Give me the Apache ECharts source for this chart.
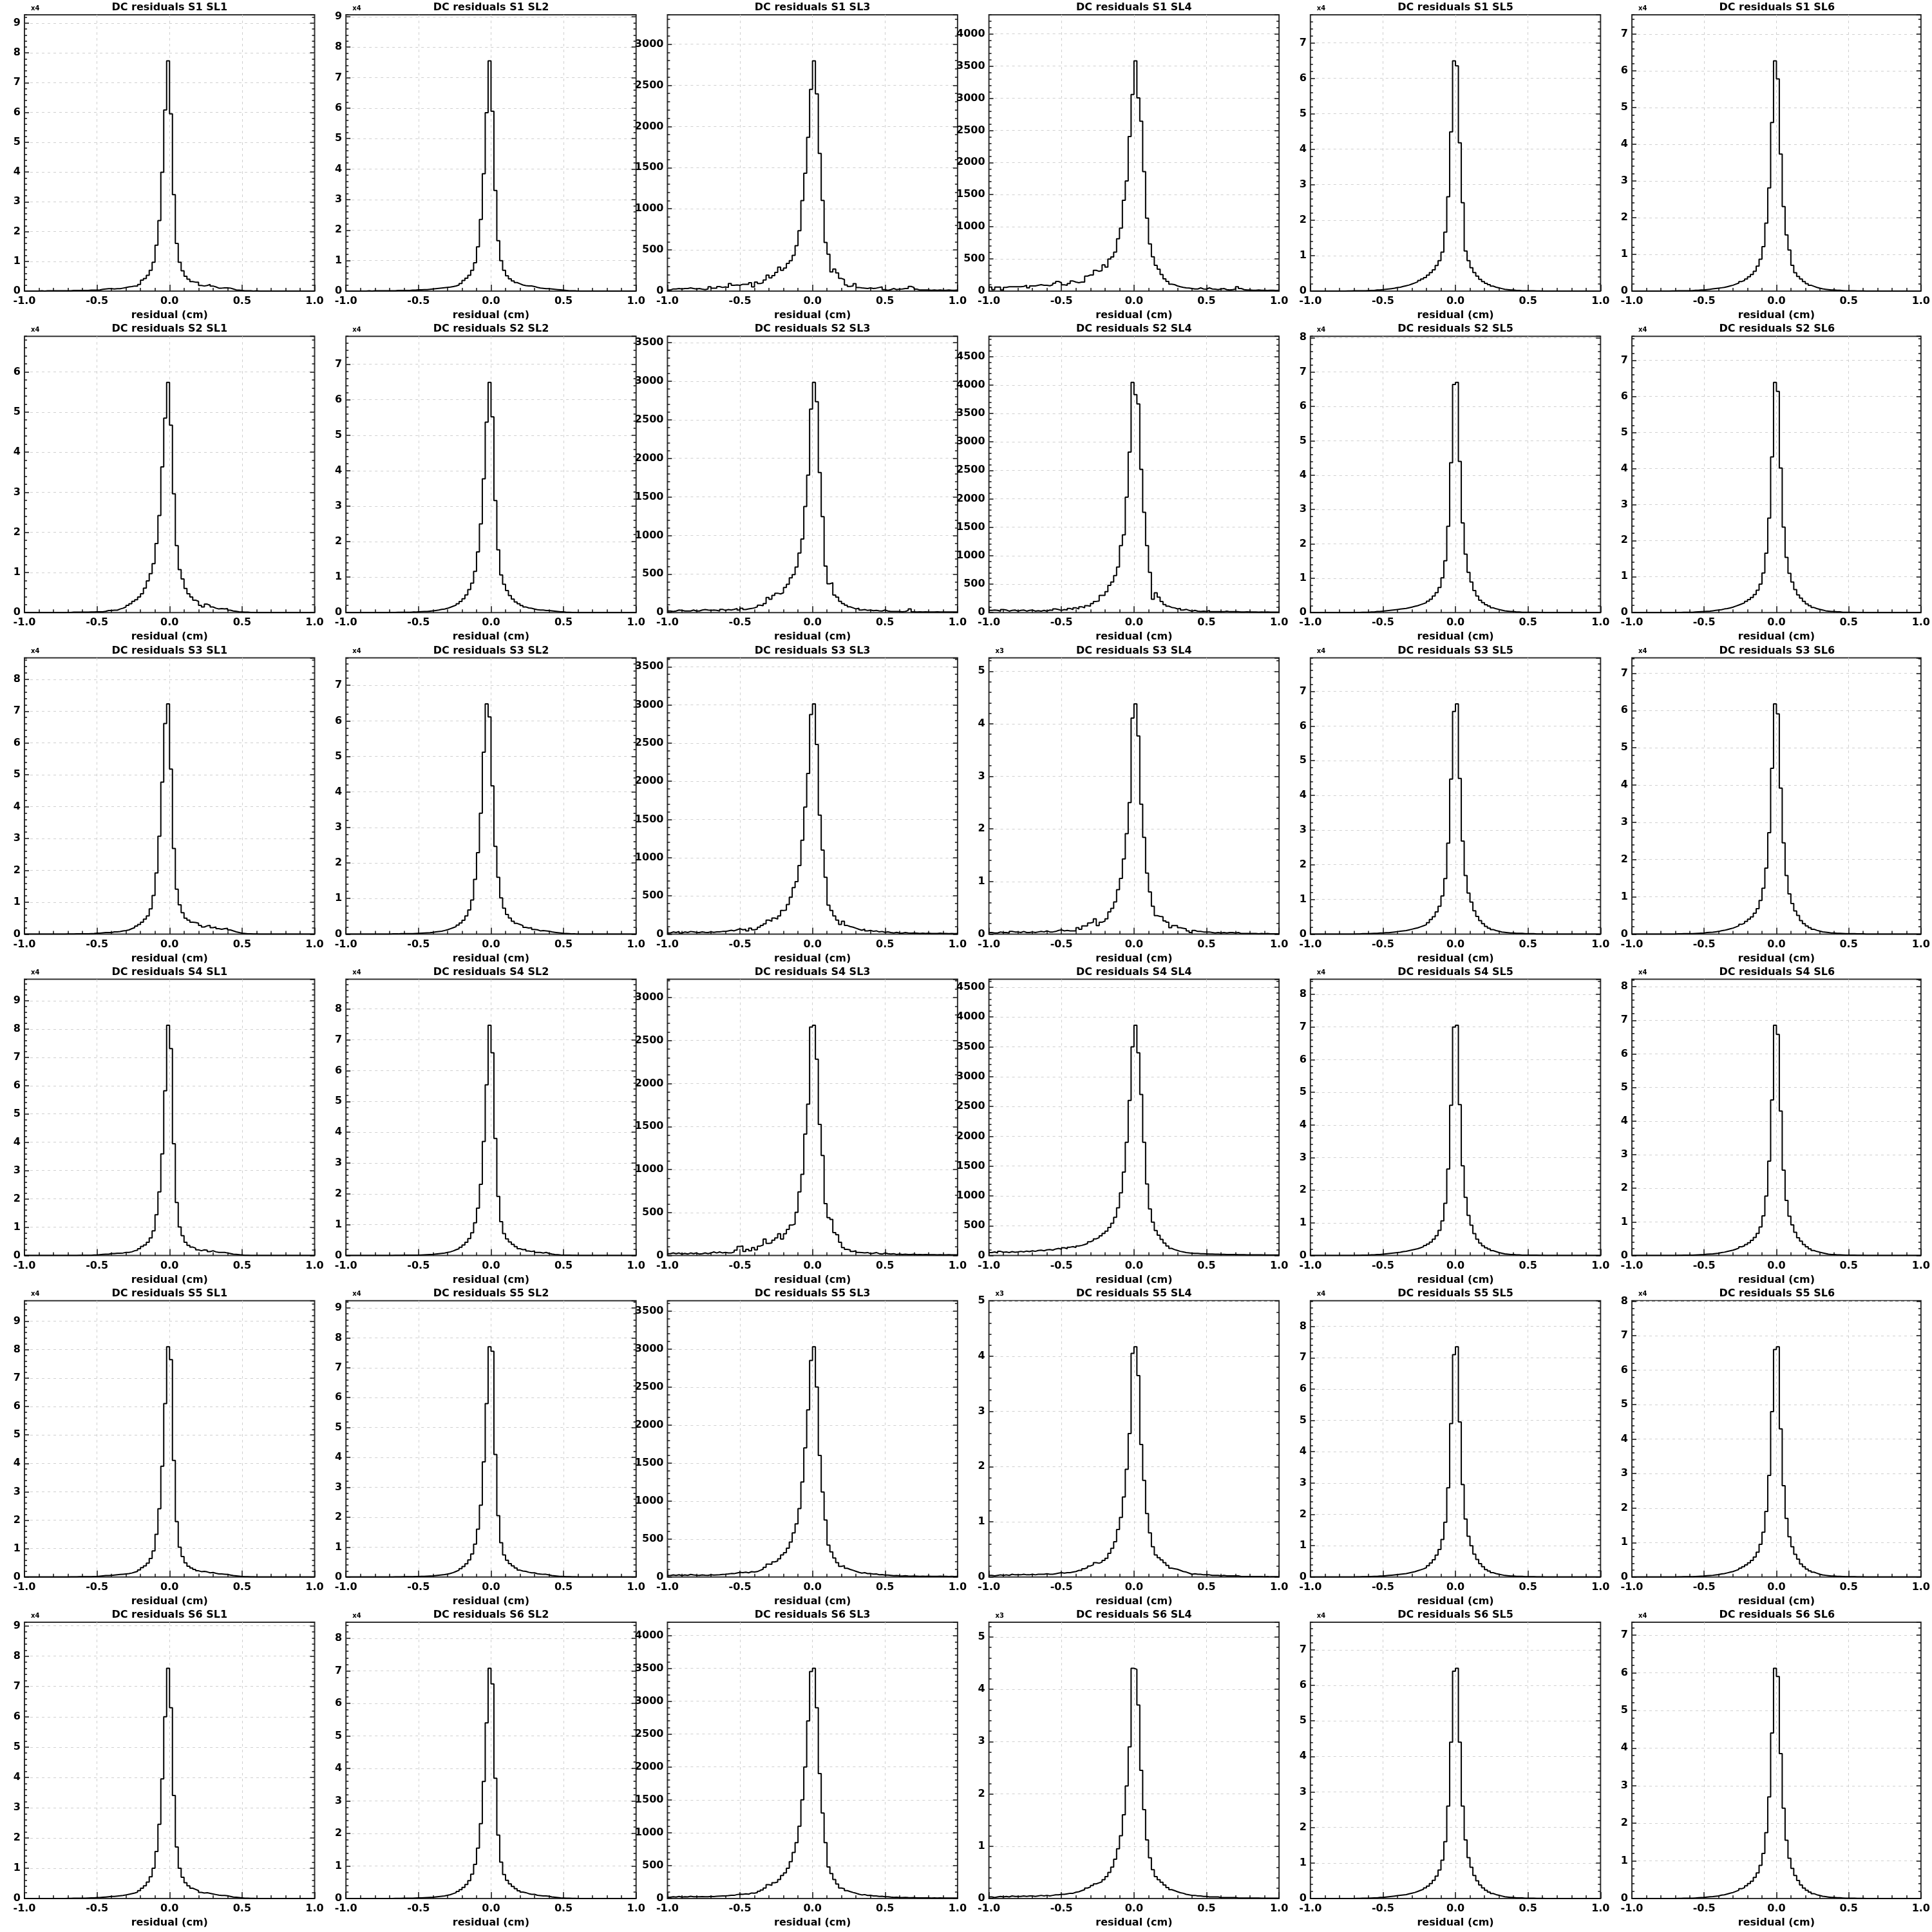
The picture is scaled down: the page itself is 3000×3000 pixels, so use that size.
<!DOCTYPE html>
<html><head><meta charset="utf-8">
<script src="https://cdn.jsdelivr.net/npm/echarts@6/dist/echarts.min.js"></script>
<style>html,body{margin:0;padding:0;background:#fff}#c{width:3000px;height:3000px}</style>
</head><body><div id="c"></div>
<script>
// ---- categories / labels ----
const sectors = ['S1','S2','S3','S4','S5','S6'];
const superlayers = ['SL1','SL2','SL3','SL4','SL5','SL6'];
// y-axis multiplier label per panel (row = sector, col = superlayer); '' = raw counts
const expLabels = [
 ['x4','x4','','','x4','x4'],
 ['x4','x4','','','x4','x4'],
 ['x4','x4','','x3','x4','x4'],
 ['x4','x4','','','x4','x4'],
 ['x4','x4','','x3','x4','x4'],
 ['x4','x4','','x3','x4','x4']];
const xTickValues = [-1.0,-0.5,0.0,0.5,1.0];
const binLow = -1.0, binWidth = 0.02; // 100 bins from -1 to 1

// ---- histogram contents (in displayed axis units) ----
const S1_SL1 = [0,0,0,0,0,0.01,0,0.01,0.01,0.01,
 0.01,0.01,0.01,0.01,0.01,0.01,0.02,0.02,0.02,0.02,
 0.02,0.02,0.03,0.03,0.03,0.04,0.06,0.07,0.08,0.08,
 0.07,0.08,0.08,0.10,0.12,0.14,0.15,0.17,0.17,0.22,
 0.37,0.42,0.53,0.70,0.97,1.54,2.37,3.99,6.08,7.73,
 5.95,3.24,1.60,0.97,0.68,0.50,0.40,0.32,0.30,0.30,
 0.19,0.17,0.19,0.22,0.17,0.14,0.10,0.10,0.11,0.11,
 0.10,0.07,0.04,0.03,0.02,0.01,0.01,0.01,0,0.01,
 0,0,0,0,0,0,0,0,0,0,
 0,0,0,0,0,0,0,0,0,0];
const S1_SL2 = [0,0,0,0,0,0,0,0.01,0,0.01,
 0.01,0.01,0.01,0.01,0.01,0.01,0.01,0.02,0.02,0.02,
 0.02,0.02,0.03,0.03,0.04,0.04,0.05,0.05,0.06,0.07,
 0.08,0.09,0.10,0.11,0.12,0.13,0.15,0.17,0.20,0.25,
 0.35,0.42,0.52,0.68,0.93,1.45,2.35,3.85,5.85,7.55,
 5.90,3.30,1.65,1.00,0.68,0.50,0.40,0.33,0.28,0.24,
 0.20,0.18,0.17,0.17,0.15,0.12,0.10,0.09,0.08,0.08,
 0.07,0.06,0.05,0.04,0.03,0.02,0.01,0.01,0.01,0,
 0,0,0,0,0,0,0,0,0,0,
 0,0,0,0,0,0,0,0,0,0];
const S1_SL3 = [13,26,26,31,26,31,31,39,31,26,
 31,23,18,26,52,36,36,55,44,50,
 44,91,70,75,70,83,83,83,102,50,
 109,91,102,135,193,161,187,227,292,253,
 279,336,370,435,552,734,1099,1432,1867,2450,
 2797,2396,1672,1101,591,448,232,268,221,154,
 141,75,57,62,89,44,39,36,31,39,
 31,36,44,50,18,10,18,31,18,23,
 26,31,31,57,44,23,13,13,13,13,
 10,13,10,13,10,10,13,10,10,13];
const S1_SL4 = [63,23,63,63,17,57,67,67,67,67,
 67,73,90,50,80,80,90,100,90,90,
 83,97,123,150,130,97,90,117,157,140,
 130,140,140,233,250,250,323,307,317,407,
 373,497,530,607,813,980,1413,1713,2403,3057,
 3580,3003,2640,1857,1133,733,533,400,340,257,
 190,150,107,100,80,67,57,50,47,40,
 33,33,50,33,30,50,33,30,23,33,
 40,23,17,23,30,67,40,23,17,17,
 13,13,17,13,13,10,13,13,10,13];
const S1_SL5 = [0,0,0,0,0,0,0,0,0,0,
 0,0,0.005,0.005,0.01,0.01,0.01,0.01,0.01,0.015,
 0.02,0.02,0.03,0.03,0.04,0.05,0.06,0.07,0.08,0.10,
 0.11,0.13,0.15,0.17,0.20,0.23,0.26,0.30,0.34,0.38,
 0.45,0.52,0.60,0.72,0.86,1.10,1.66,2.66,4.49,6.49,
 6.35,4.18,2.49,1.13,0.86,0.66,0.52,0.42,0.33,0.27,
 0.22,0.18,0.14,0.11,0.09,0.07,0.05,0.04,0.03,0.03,
 0.02,0.02,0.01,0.01,0.01,0.01,0.01,0.005,0.005,0,
 0,0,0,0,0,0,0,0,0,0,
 0,0,0,0,0,0,0,0,0,0];
const S1_SL6 = [0,0,0,0,0,0,0,0,0,0,
 0,0,0,0.005,0.005,0.01,0.01,0.01,0.01,0.01,
 0.015,0.02,0.02,0.03,0.03,0.04,0.05,0.06,0.07,0.08,
 0.09,0.10,0.12,0.14,0.16,0.19,0.22,0.26,0.29,0.33,
 0.39,0.45,0.54,0.68,0.87,1.21,1.85,2.81,4.59,6.27,
 5.78,3.73,2.30,1.53,1.12,0.70,0.50,0.40,0.33,0.26,
 0.20,0.16,0.13,0.10,0.08,0.06,0.05,0.04,0.03,0.03,
 0.02,0.02,0.015,0.01,0.01,0.01,0.01,0.005,0.005,0.005,
 0,0,0,0,0,0,0,0,0,0,
 0,0,0,0,0,0,0,0,0,0];
const S2_SL1 = [0,0,0,0,0,0,0,0,0,0,
 0,0,0,0,0.005,0.005,0.01,0.01,0.01,0.01,
 0.01,0.01,0.015,0.015,0.02,0.02,0.02,0.03,0.05,0.05,
 0.06,0.06,0.09,0.11,0.14,0.18,0.22,0.28,0.32,0.39,
 0.47,0.61,0.79,0.97,1.22,1.72,2.42,3.63,4.85,5.74,
 4.67,2.96,1.67,1.07,0.84,0.60,0.47,0.39,0.31,0.28,
 0.18,0.14,0.21,0.18,0.14,0.11,0.09,0.10,0.09,0.10,
 0.06,0.04,0.03,0.02,0.015,0.01,0.01,0.005,0.005,0,
 0,0,0,0,0,0,0,0,0,0,
 0,0,0,0,0,0,0,0,0,0];
const S2_SL2 = [0,0,0,0,0,0,0,0,0,0,
 0,0,0,0,0.005,0.005,0.005,0.01,0.01,0.01,
 0.01,0.01,0.015,0.015,0.02,0.025,0.03,0.03,0.04,0.05,
 0.06,0.07,0.09,0.10,0.12,0.15,0.18,0.21,0.25,0.31,
 0.39,0.50,0.65,0.83,1.16,1.71,2.50,3.77,5.37,6.49,
 5.52,3.16,1.77,1.06,0.80,0.62,0.48,0.38,0.30,0.25,
 0.20,0.16,0.13,0.12,0.10,0.08,0.07,0.07,0.06,0.06,
 0.05,0.04,0.03,0.02,0.02,0.01,0.01,0.005,0.005,0,
 0,0,0,0,0,0,0,0,0,0,
 0,0,0,0,0,0,0,0,0,0];
const S2_SL3 = [20,14,20,33,28,20,20,20,33,20,
 20,33,39,33,28,33,28,20,42,28,
 39,33,42,53,33,56,39,47,53,61,
 75,95,89,117,195,173,223,251,242,256,
 326,368,451,493,591,772,953,1376,1783,2638,
 2986,2735,1816,1245,604,373,387,228,200,145,
 117,95,75,61,47,56,33,39,28,33,
 25,28,22,20,33,20,14,14,14,14,
 11,14,28,47,11,8,11,8,11,8,
 8,8,11,8,8,8,8,8,8,8];
const S2_SL4 = [38,45,38,26,53,45,26,38,45,26,
 38,45,26,38,45,26,34,26,38,26,
 45,38,64,53,38,53,45,72,53,83,
 64,102,83,121,113,159,196,204,302,302,
 366,479,536,649,800,1177,1366,2027,2819,4046,
 3830,3665,2517,1762,1177,706,234,347,272,196,
 140,113,91,83,64,72,45,57,38,26,
 38,26,19,26,19,38,15,15,15,15,
 15,26,15,15,15,15,11,11,15,11,
 11,11,8,11,8,11,8,8,8,8];
const S2_SL5 = [0,0,0,0,0,0,0,0,0,0,
 0,0,0,0,0,0.005,0.005,0.01,0.01,0.01,
 0.02,0.02,0.03,0.03,0.04,0.05,0.06,0.07,0.08,0.09,
 0.10,0.11,0.12,0.14,0.16,0.18,0.20,0.23,0.26,0.29,
 0.33,0.39,0.48,0.58,0.73,1.01,1.51,2.51,4.36,6.64,
 6.70,4.40,2.61,1.70,1.17,0.89,0.64,0.48,0.36,0.29,
 0.23,0.19,0.14,0.11,0.09,0.07,0.05,0.04,0.03,0.03,
 0.02,0.02,0.01,0.01,0.01,0.01,0.01,0.01,0.005,0.005,
 0,0,0,0,0,0,0,0,0,0,
 0,0,0,0,0,0,0,0,0,0];
const S2_SL6 = [0,0,0,0,0,0,0,0,0,0,
 0,0,0,0,0,0.005,0.005,0.01,0.01,0.01,
 0.01,0.015,0.02,0.025,0.03,0.035,0.04,0.05,0.06,0.07,
 0.08,0.10,0.11,0.13,0.15,0.18,0.21,0.24,0.27,0.31,
 0.36,0.42,0.50,0.62,0.79,1.10,1.65,2.62,4.32,6.39,
 6.14,4.01,2.37,1.53,1.09,0.85,0.64,0.49,0.40,0.31,
 0.24,0.19,0.14,0.11,0.09,0.07,0.05,0.04,0.03,0.03,
 0.02,0.02,0.01,0.01,0.01,0.01,0.01,0.005,0.005,0.005,
 0,0,0,0,0,0,0,0,0,0,
 0,0,0,0,0,0,0,0,0,0];
const S3_SL1 = [0,0,0,0,0,0,0,0,0,0,
 0,0,0,0,0.005,0.005,0.005,0.01,0.01,0.01,
 0.01,0.01,0.015,0.02,0.03,0.03,0.04,0.05,0.05,0.05,
 0.07,0.07,0.08,0.10,0.11,0.13,0.17,0.20,0.25,0.30,
 0.37,0.47,0.57,0.79,1.21,1.92,3.07,4.77,6.61,7.23,
 5.18,2.69,1.41,0.92,0.67,0.50,0.44,0.37,0.36,0.34,
 0.27,0.22,0.26,0.27,0.20,0.22,0.17,0.15,0.17,0.18,
 0.13,0.10,0.07,0.05,0.03,0.02,0.01,0.01,0.005,0.005,
 0,0,0,0,0,0,0,0,0,0,
 0,0,0,0,0,0,0,0,0,0];
const S3_SL2 = [0,0,0,0,0,0,0,0,0,0,
 0,0,0,0,0,0.005,0.005,0.005,0.01,0.01,
 0.01,0.01,0.01,0.015,0.02,0.025,0.03,0.035,0.04,0.05,
 0.06,0.07,0.08,0.10,0.12,0.15,0.18,0.21,0.25,0.31,
 0.39,0.51,0.68,0.96,1.54,2.29,3.40,5.12,6.48,6.11,
 4.17,2.47,1.60,1.02,0.73,0.55,0.45,0.36,0.30,0.27,
 0.24,0.19,0.17,0.18,0.13,0.12,0.09,0.10,0.09,0.08,
 0.06,0.05,0.04,0.03,0.02,0.015,0.01,0.005,0.005,0,
 0,0,0,0,0,0,0,0,0,0,
 0,0,0,0,0,0,0,0,0,0];
const S3_SL3 = [14,28,20,34,14,28,20,34,28,22,
 20,28,22,20,28,22,28,28,34,34,
 42,50,42,56,70,56,62,42,78,56,
 64,90,112,135,182,168,210,196,238,308,
 314,387,482,608,687,897,1228,1663,2103,2874,
 3014,2481,1556,1099,743,378,308,238,182,126,
 168,112,98,90,76,62,50,64,42,48,
 36,42,28,34,22,28,20,14,22,14,
 11,20,14,11,14,11,8,11,8,11,
 8,8,8,11,8,8,6,8,6,8];
const S3_SL4 = [0.03,0.02,0.02,0.04,0.03,0.03,0.02,0.05,0.04,0.04,
 0.03,0.05,0.03,0.03,0.04,0.03,0.04,0.05,0.04,0.06,
 0.04,0.04,0.05,0.07,0.08,0.06,0.07,0.06,0.06,0.06,
 0.12,0.09,0.155,0.155,0.21,0.225,0.29,0.16,0.225,0.245,
 0.29,0.42,0.49,0.61,0.845,1.06,1.43,1.91,2.50,4.11,
 4.38,3.77,2.47,1.84,1.16,0.80,0.53,0.35,0.335,0.33,
 0.25,0.225,0.12,0.16,0.16,0.12,0.11,0.10,0.06,0.03,
 0.07,0.05,0.05,0.04,0.04,0.04,0.03,0.02,0.03,0.02,
 0.03,0.02,0.03,0.03,0.02,0.03,0.01,0.01,0.01,0.01,
 0.01,0.01,0.005,0.01,0.005,0.01,0.005,0.005,0.005,0.005];
const S3_SL5 = [0,0,0,0,0,0,0,0,0,0,
 0,0,0,0,0,0.005,0.005,0.01,0.01,0.01,
 0.015,0.02,0.02,0.03,0.03,0.04,0.04,0.05,0.06,0.07,
 0.08,0.09,0.10,0.12,0.14,0.16,0.18,0.21,0.24,0.27,
 0.33,0.42,0.50,0.64,0.80,1.10,1.60,2.62,4.47,6.42,
 6.64,4.49,2.68,1.69,1.18,0.92,0.67,0.51,0.39,0.30,
 0.22,0.17,0.13,0.10,0.08,0.06,0.05,0.04,0.03,0.03,
 0.02,0.02,0.02,0.01,0.01,0.01,0.01,0.005,0.005,0.005,
 0,0,0,0,0,0,0,0,0,0,
 0,0,0,0,0,0,0,0,0,0];
const S3_SL6 = [0,0,0,0,0,0,0,0,0,0,
 0,0,0,0,0,0.005,0.005,0.01,0.01,0.01,
 0.01,0.015,0.02,0.025,0.03,0.04,0.045,0.05,0.06,0.07,
 0.09,0.10,0.12,0.14,0.16,0.19,0.22,0.26,0.29,0.34,
 0.40,0.46,0.56,0.68,0.90,1.23,1.77,2.72,4.45,6.18,
 5.91,3.92,2.45,1.57,1.08,0.82,0.62,0.50,0.36,0.28,
 0.22,0.17,0.13,0.10,0.08,0.06,0.05,0.04,0.03,0.03,
 0.02,0.02,0.015,0.01,0.01,0.01,0.01,0.005,0.005,0.005,
 0,0,0,0,0,0,0,0,0,0,
 0,0,0,0,0,0,0,0,0,0];
const S4_SL1 = [0,0,0,0,0,0,0,0,0,0,
 0,0,0,0,0,0.005,0.005,0.005,0.01,0.01,
 0.01,0.01,0.01,0.02,0.02,0.03,0.04,0.05,0.05,0.07,
 0.07,0.08,0.08,0.09,0.11,0.11,0.13,0.17,0.19,0.24,
 0.32,0.37,0.47,0.62,0.87,1.44,2.25,3.59,5.82,8.13,
 7.31,3.95,1.87,1.01,0.70,0.47,0.36,0.30,0.26,0.20,
 0.17,0.20,0.19,0.14,0.17,0.13,0.11,0.11,0.11,0.09,
 0.07,0.05,0.04,0.03,0.02,0.01,0.01,0.005,0.005,0,
 0,0,0,0,0,0,0,0,0,0,
 0,0,0,0,0,0,0,0,0,0];
const S4_SL2 = [0,0,0,0,0,0,0,0,0,0,
 0,0,0,0,0,0,0.005,0.005,0.005,0.01,
 0.01,0.01,0.01,0.01,0.015,0.02,0.025,0.03,0.035,0.04,
 0.05,0.06,0.07,0.08,0.10,0.12,0.15,0.19,0.22,0.27,
 0.34,0.43,0.55,0.74,1.06,1.54,2.31,3.70,5.54,7.47,
 6.58,3.80,1.92,1.10,0.71,0.54,0.44,0.36,0.29,0.22,
 0.19,0.20,0.15,0.13,0.15,0.10,0.10,0.08,0.10,0.07,
 0.05,0.035,0.03,0.02,0.015,0.01,0.01,0.005,0.005,0,
 0,0,0,0,0,0,0,0,0,0,
 0,0,0,0,0,0,0,0,0,0];
const S4_SL3 = [22,30,22,30,17,25,17,30,22,30,
 17,22,30,22,30,42,30,42,30,37,
 30,30,42,62,105,112,47,72,55,92,
 67,110,122,192,142,147,179,204,254,192,
 254,304,354,366,503,740,944,1412,1760,2657,
 2677,2283,1524,1163,603,441,421,266,242,154,
 92,72,67,47,55,37,35,30,35,22,
 27,35,22,17,30,22,17,22,12,17,
 12,15,12,12,15,10,12,10,12,10,
 10,10,8,10,8,8,10,8,8,8];
const S4_SL4 = [50,60,45,70,55,60,50,65,55,60,
 70,60,75,65,80,70,85,90,80,95,
 100,90,110,120,105,130,115,140,150,135,
 160,170,185,200,230,250,280,300,330,370,
 410,470,540,640,800,1050,1400,1900,2600,3500,
 3860,3400,2700,1900,1200,780,560,420,340,270,
 210,160,120,100,85,70,60,50,45,40,
 35,35,30,30,28,25,25,22,22,20,
 20,18,18,17,16,15,15,14,13,13,
 12,12,11,11,10,10,10,9,9,9];
const S4_SL5 = [0,0,0,0,0,0,0,0,0,0,
 0,0,0,0,0,0.005,0.005,0.01,0.01,0.01,
 0.02,0.02,0.03,0.03,0.04,0.05,0.06,0.07,0.08,0.09,
 0.10,0.12,0.13,0.15,0.17,0.19,0.21,0.24,0.27,0.31,
 0.35,0.41,0.50,0.61,0.77,1.06,1.60,2.65,4.60,7.00,
 7.05,4.62,2.75,1.78,1.23,0.93,0.67,0.50,0.38,0.30,
 0.24,0.20,0.15,0.12,0.09,0.07,0.05,0.04,0.03,0.03,
 0.02,0.02,0.01,0.01,0.01,0.01,0.01,0.01,0.005,0.005,
 0,0,0,0,0,0,0,0,0,0,
 0,0,0,0,0,0,0,0,0,0];
const S4_SL6 = [0,0,0,0,0,0,0,0,0,0,
 0,0,0,0,0,0.005,0.005,0.01,0.01,0.01,
 0.01,0.015,0.02,0.025,0.03,0.04,0.045,0.05,0.06,0.07,
 0.09,0.10,0.12,0.14,0.16,0.19,0.22,0.26,0.29,0.33,
 0.38,0.45,0.54,0.66,0.85,1.18,1.77,2.81,4.63,6.85,
 6.58,4.30,2.54,1.64,1.17,0.91,0.69,0.53,0.43,0.33,
 0.26,0.20,0.15,0.12,0.10,0.08,0.06,0.04,0.03,0.03,
 0.02,0.02,0.015,0.01,0.01,0.01,0.01,0.005,0.005,0.005,
 0,0,0,0,0,0,0,0,0,0,
 0,0,0,0,0,0,0,0,0,0];
const S5_SL1 = [0,0,0,0,0,0,0,0,0,0,
 0,0,0,0,0,0.005,0.005,0.005,0.01,0.01,
 0.01,0.01,0.015,0.02,0.02,0.03,0.04,0.05,0.05,0.06,
 0.07,0.08,0.09,0.10,0.11,0.12,0.14,0.17,0.20,0.25,
 0.33,0.39,0.49,0.65,0.92,1.50,2.40,3.90,6.10,8.10,
 7.65,4.10,1.95,1.05,0.72,0.50,0.38,0.32,0.27,0.22,
 0.19,0.20,0.18,0.15,0.16,0.13,0.11,0.11,0.10,0.09,
 0.07,0.05,0.04,0.03,0.02,0.01,0.01,0.005,0.005,0,
 0,0,0,0,0,0,0,0,0,0,
 0,0,0,0,0,0,0,0,0,0];
const S5_SL2 = [0,0,0,0,0,0,0,0,0,0,
 0,0,0,0,0,0,0.005,0.005,0.005,0.01,
 0.01,0.01,0.01,0.015,0.015,0.02,0.025,0.03,0.035,0.04,
 0.05,0.06,0.07,0.08,0.10,0.12,0.15,0.19,0.23,0.28,
 0.35,0.44,0.57,0.77,1.10,1.60,2.40,3.85,5.80,7.70,
 7.55,4.10,2.05,1.15,0.74,0.56,0.45,0.37,0.30,0.23,
 0.20,0.19,0.16,0.14,0.14,0.11,0.10,0.09,0.09,0.07,
 0.05,0.04,0.03,0.02,0.015,0.01,0.01,0.005,0.005,0,
 0,0,0,0,0,0,0,0,0,0,
 0,0,0,0,0,0,0,0,0,0];
const S5_SL3 = [20,28,22,30,20,28,22,34,28,24,
 22,28,24,22,30,26,28,30,34,36,
 40,46,44,54,62,58,64,56,70,66,
 72,88,104,128,170,168,200,210,240,290,
 320,380,460,580,700,900,1250,1700,2200,2850,
 3030,2500,1600,1120,750,420,330,250,190,140,
 150,115,100,88,75,62,52,58,45,46,
 38,40,30,32,25,26,22,17,20,15,
 13,18,14,12,13,11,9,11,9,10,
 8,8,8,10,8,8,7,8,7,8];
const S5_SL4 = [0.03,0.02,0.03,0.04,0.03,0.04,0.03,0.05,0.04,0.04,
 0.04,0.05,0.04,0.04,0.05,0.04,0.05,0.05,0.05,0.06,
 0.05,0.05,0.06,0.07,0.08,0.07,0.08,0.08,0.09,0.10,
 0.12,0.12,0.15,0.17,0.20,0.22,0.26,0.25,0.27,0.30,
 0.34,0.43,0.52,0.64,0.86,1.08,1.45,1.95,2.60,4.05,
 4.17,3.65,2.40,1.75,1.15,0.80,0.55,0.40,0.35,0.31,
 0.26,0.21,0.16,0.15,0.14,0.12,0.10,0.09,0.07,0.05,
 0.06,0.05,0.05,0.04,0.04,0.04,0.03,0.03,0.03,0.02,
 0.03,0.02,0.02,0.02,0.02,0.02,0.01,0.01,0.01,0.01,
 0.01,0.01,0.01,0.01,0.005,0.01,0.005,0.005,0.005,0.005];
const S5_SL5 = [0,0,0,0,0,0,0,0,0,0,
 0,0,0,0,0,0.005,0.005,0.01,0.01,0.01,
 0.015,0.02,0.02,0.03,0.03,0.04,0.05,0.06,0.07,0.08,
 0.09,0.10,0.11,0.13,0.15,0.17,0.20,0.23,0.26,0.30,
 0.36,0.45,0.55,0.70,0.88,1.20,1.75,2.85,4.90,7.10,
 7.35,4.95,2.95,1.85,1.30,1.00,0.73,0.56,0.43,0.33,
 0.24,0.19,0.14,0.11,0.09,0.07,0.05,0.04,0.03,0.03,
 0.02,0.02,0.02,0.01,0.01,0.01,0.01,0.005,0.005,0.005,
 0,0,0,0,0,0,0,0,0,0,
 0,0,0,0,0,0,0,0,0,0];
const S5_SL6 = [0,0,0,0,0,0,0,0,0,0,
 0,0,0,0,0,0.005,0.005,0.01,0.01,0.01,
 0.01,0.015,0.02,0.025,0.03,0.04,0.045,0.05,0.06,0.07,
 0.09,0.10,0.12,0.14,0.16,0.19,0.22,0.26,0.30,0.35,
 0.41,0.48,0.58,0.72,0.95,1.30,1.90,2.95,4.80,6.60,
 6.68,4.30,2.65,1.70,1.17,0.88,0.66,0.52,0.38,0.30,
 0.23,0.18,0.14,0.11,0.08,0.06,0.05,0.04,0.03,0.03,
 0.02,0.02,0.015,0.01,0.01,0.01,0.01,0.005,0.005,0.005,
 0,0,0,0,0,0,0,0,0,0,
 0,0,0,0,0,0,0,0,0,0];
const S6_SL1 = [0,0,0,0,0,0,0,0,0,0,
 0,0,0,0,0.005,0.005,0.01,0.01,0.01,0.01,
 0.01,0.015,0.02,0.02,0.03,0.03,0.04,0.05,0.06,0.07,
 0.07,0.08,0.09,0.10,0.12,0.14,0.16,0.18,0.21,0.26,
 0.34,0.42,0.54,0.72,1.00,1.55,2.45,3.95,6.00,7.60,
 6.30,3.40,1.70,1.00,0.70,0.52,0.42,0.34,0.30,0.26,
 0.20,0.18,0.19,0.17,0.15,0.13,0.11,0.10,0.10,0.09,
 0.07,0.05,0.04,0.03,0.02,0.01,0.01,0.005,0.005,0,
 0,0,0,0,0,0,0,0,0,0,
 0,0,0,0,0,0,0,0,0,0];
const S6_SL2 = [0,0,0,0,0,0,0,0,0,0,
 0,0,0,0,0,0,0.005,0.005,0.005,0.01,
 0.01,0.01,0.01,0.015,0.02,0.02,0.025,0.03,0.035,0.04,
 0.05,0.06,0.07,0.08,0.10,0.12,0.15,0.18,0.22,0.27,
 0.34,0.43,0.55,0.75,1.05,1.55,2.30,3.60,5.40,7.08,
 6.60,3.70,1.95,1.12,0.74,0.56,0.45,0.37,0.30,0.24,
 0.20,0.18,0.15,0.13,0.13,0.10,0.09,0.08,0.08,0.07,
 0.05,0.04,0.03,0.02,0.015,0.01,0.01,0.005,0.005,0,
 0,0,0,0,0,0,0,0,0,0,
 0,0,0,0,0,0,0,0,0,0];
const S6_SL3 = [20,26,22,32,22,28,24,34,28,26,
 26,30,28,28,32,30,34,36,38,40,
 44,50,48,60,66,64,72,66,84,80,
 90,110,130,160,210,200,240,250,290,350,
 390,460,560,700,850,1100,1500,2000,2700,3450,
 3500,2900,1900,1300,850,480,380,290,220,160,
 150,120,105,92,80,66,55,60,46,48,
 40,40,32,34,26,28,22,18,20,15,
 14,18,14,12,14,11,10,11,9,10,
 8,9,8,10,8,8,7,8,7,8];
const S6_SL4 = [0.03,0.02,0.03,0.04,0.03,0.04,0.03,0.05,0.04,0.04,
 0.04,0.05,0.04,0.05,0.05,0.04,0.05,0.06,0.05,0.06,
 0.05,0.06,0.07,0.07,0.08,0.08,0.09,0.10,0.10,0.12,
 0.13,0.15,0.17,0.20,0.22,0.25,0.28,0.30,0.32,0.36,
 0.42,0.50,0.60,0.75,0.95,1.20,1.60,2.15,2.90,4.40,
 4.38,3.70,2.45,1.70,1.12,0.78,0.55,0.42,0.36,0.31,
 0.26,0.21,0.17,0.15,0.13,0.11,0.10,0.08,0.07,0.06,
 0.06,0.05,0.05,0.04,0.04,0.03,0.03,0.03,0.03,0.02,
 0.02,0.02,0.02,0.02,0.02,0.01,0.01,0.01,0.01,0.01,
 0.01,0.01,0.01,0.005,0.005,0.005,0.005,0.005,0.005,0.005];
const S6_SL5 = [0,0,0,0,0,0,0,0,0,0,
 0,0,0,0,0,0.005,0.005,0.01,0.01,0.01,
 0.015,0.02,0.02,0.03,0.03,0.04,0.05,0.06,0.07,0.08,
 0.09,0.10,0.11,0.13,0.15,0.17,0.20,0.23,0.26,0.30,
 0.35,0.42,0.51,0.63,0.80,1.08,1.60,2.60,4.40,6.40,
 6.48,4.40,2.60,1.65,1.15,0.88,0.65,0.50,0.38,0.30,
 0.23,0.18,0.14,0.11,0.09,0.07,0.05,0.04,0.03,0.03,
 0.02,0.02,0.02,0.01,0.01,0.01,0.01,0.005,0.005,0.005,
 0,0,0,0,0,0,0,0,0,0,
 0,0,0,0,0,0,0,0,0,0];
const S6_SL6 = [0,0,0,0,0,0,0,0,0,0,
 0,0,0,0,0,0.005,0.005,0.01,0.01,0.01,
 0.01,0.015,0.02,0.025,0.03,0.04,0.045,0.05,0.06,0.07,
 0.09,0.10,0.12,0.14,0.16,0.19,0.22,0.26,0.29,0.34,
 0.40,0.46,0.56,0.68,0.88,1.20,1.75,2.70,4.40,6.12,
 5.90,3.85,2.40,1.55,1.07,0.80,0.61,0.48,0.36,0.28,
 0.22,0.17,0.13,0.10,0.08,0.06,0.05,0.04,0.03,0.03,
 0.02,0.02,0.015,0.01,0.01,0.01,0.01,0.005,0.005,0.005,
 0,0,0,0,0,0,0,0,0,0,
 0,0,0,0,0,0,0,0,0,0];

const histos = [
 [S1_SL1,S1_SL2,S1_SL3,S1_SL4,S1_SL5,S1_SL6],
 [S2_SL1,S2_SL2,S2_SL3,S2_SL4,S2_SL5,S2_SL6],
 [S3_SL1,S3_SL2,S3_SL3,S3_SL4,S3_SL5,S3_SL6],
 [S4_SL1,S4_SL2,S4_SL3,S4_SL4,S4_SL5,S4_SL6],
 [S5_SL1,S5_SL2,S5_SL3,S5_SL4,S5_SL5,S5_SL6],
 [S6_SL1,S6_SL2,S6_SL3,S6_SL4,S6_SL5,S6_SL6]];

// ---- layout / style ----
const FONT = 'DejaVu Sans';
const PITCH = 499.2, LEFT0 = 38, TOP0 = 23, PW = 450.5, PH = 429;
const GRIDCOL = '#cfcfcf';
const chart = echarts.init(document.getElementById('c'), null, {renderer:'canvas'});
const option = {animation:false, backgroundColor:'#fff', title:[], grid:[], xAxis:[], yAxis:[], series:[]};

histos.forEach((row, r) => row.forEach((vals, c) => {
  const i = r*6 + c;
  const left = LEFT0 + PITCH*c, top = TOP0 + PITCH*r;
  const exp = expLabels[r][c];
  const major = exp ? 1 : 500;
  const minor = major/5;
  const ymax = Math.max(...vals) * 1.2;
  option.title.push({text:'DC residuals '+sectors[r]+' '+superlayers[c], left: left+PW/2, top: top-19,
    textAlign:'center', padding:0,
    textStyle:{fontFamily:FONT, fontSize:16, fontWeight:'bold', color:'#000'}});
  option.grid.push({left, top, width:PW, height:PH, show:true, borderColor:'#303030', borderWidth:2,
    backgroundColor:'rgba(0,0,0,0)', containLabel:false});
  option.xAxis.push({gridIndex:i, type:'value', min:-1, max:1, interval:0.5,
    axisLine:{show:false, onZero:false},
    axisTick:{show:true, inside:true, length:10, lineStyle:{color:'#111', width:1.5}},
    minorTick:{show:true, splitNumber:5, length:5, lineStyle:{color:'#111', width:1.5}},
    axisLabel:{show:true, margin:8, fontFamily:FONT, fontSize:16, fontWeight:'bold', color:'#000',
      showMinLabel:true, showMaxLabel:true, formatter: v => xTickValues.includes(v) ? v.toFixed(1) : ''},
    splitLine:{show:true, showMinLine:false, showMaxLine:false, lineStyle:{color:GRIDCOL, width:1, type:[4,5]}},
    name:'residual (cm)', nameLocation:'middle', nameGap:30,
    nameTextStyle:{fontFamily:FONT, fontSize:16, fontWeight:'bold', color:'#000'}});
  const yBase = {gridIndex:i, type:'value', min:0, max:ymax, axisLine:{show:false, onZero:false}};
  // left: major with labels and grid
  option.yAxis.push(Object.assign({}, yBase, {position:'left', interval:major,
    axisTick:{show:true, inside:true, length:7, lineStyle:{color:'#111', width:1.5}},
    axisLabel:{show:true, margin:6, fontFamily:FONT, fontSize:16, fontWeight:'bold', color:'#000',
      showMinLabel:true, showMaxLabel:false, formatter: v => String(Math.round(v))},
    splitLine:{show:true, showMinLine:false, showMaxLine:false, lineStyle:{color:GRIDCOL, width:1, type:[4,5]}},
    name: exp, nameLocation:'end', nameGap:5,
    nameTextStyle:{fontFamily:FONT, fontSize:10, fontWeight:'bold', color:'#000', align:'left', verticalAlign:'bottom', padding:[0,0,0,10]}}));
  // left: minor ticks
  option.yAxis.push(Object.assign({}, yBase, {position:'left', interval:minor,
    axisTick:{show:true, inside:true, length:4, lineStyle:{color:'#111', width:1.5}},
    axisLabel:{show:false}, splitLine:{show:false}}));
  // right: major ticks
  option.yAxis.push(Object.assign({}, yBase, {position:'right', interval:major,
    axisTick:{show:true, inside:true, length:7, lineStyle:{color:'#111', width:1.5}},
    axisLabel:{show:false}, splitLine:{show:false}}));
  // right: minor ticks
  option.yAxis.push(Object.assign({}, yBase, {position:'right', interval:minor,
    axisTick:{show:true, inside:true, length:4, lineStyle:{color:'#111', width:1.5}},
    axisLabel:{show:false}, splitLine:{show:false}}));
  const data = vals.map((v, k) => [binLow + binWidth*k, v]);
  data.push([binLow + binWidth*vals.length, vals[vals.length-1]]);
  option.series.push({type:'line', xAxisIndex:i, yAxisIndex:i*4, data, step:'end',
    symbol:'none', showSymbol:false, silent:true, z:5, clip:true,
    lineStyle:{color:'#000', width:2}});
}));
chart.setOption(option);
</script></body></html>
